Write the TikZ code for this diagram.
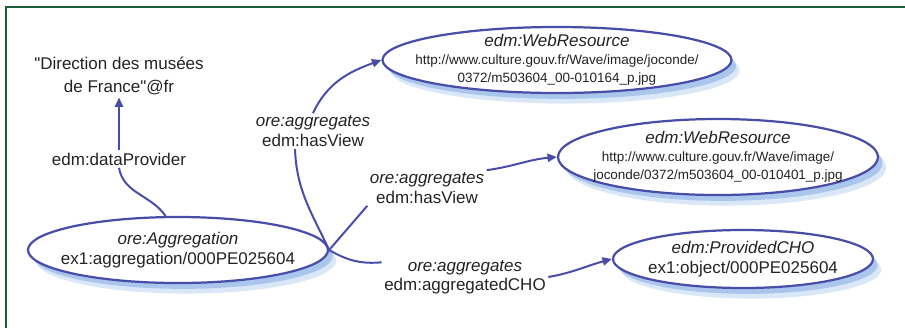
\documentclass[tikz,border=0pt]{standalone}
\usepackage{fontspec}
\setmainfont{Liberation Sans}
\usepackage{tikz}
\usetikzlibrary{shapes.geometric, %for ellipses
                calc, %for shifted anchors
                arrows.meta, %for triangle tips
                shadows}

\definecolor{linkblue}{RGB}{72,78,168}
\definecolor{glowblue}{RGB}{150,185,232}
\definecolor{framegreen}{RGB}{28,94,58}
\definecolor{textgray}{RGB}{35,35,35}

\newcommand{\bigtxt}{\fontsize{14.5}{16.5}\selectfont}
\newcommand{\urltxt}{\fontsize{11.5}{15.3}\selectfont}

\begin{document}
\begin{tikzpicture}[x=0.3mm, y=0.3mm,
                    Res/.style={draw=linkblue, line width=1.9pt, ellipse, fill=white, inner sep=0pt,
                                drop shadow={shadow xshift=7pt, shadow yshift=-9pt, opacity=.35, fill=glowblue},
                                drop shadow={shadow xshift=4pt, shadow yshift=-5pt, opacity=.7, fill=glowblue}},
                    Txt/.style={text=textgray, align=center, inner sep=2pt, font=\bigtxt},
                    Link/.style={draw=linkblue, line width=1.7pt},
                    Arr/.style={Link, -{Triangle[length=8pt, width=7pt]}}
                    ]
    \useasboundingbox (0,0) rectangle (905,-328);

    % FRAME %
    \draw[framegreen, line width=2.5pt] (905,-7) -- (6,-7) -- (6,-328);

    % RESOURCES %
    \node[Res, minimum width=90mm, minimum height=19.8mm] (agg) at (178,-250) {};
    \node[Txt] (aggT) at (agg) {\textit{ore:Aggregation}\\ex1:aggregation/000PE025604};

    \node[Res, minimum width=104.7mm, minimum height=19.8mm] (wr1) at (557,-60) {};
    \node[Txt, font=\urltxt] (wr1T) at (wr1) {{\bigtxt\itshape edm:WebResource}\\http://www.culture.gouv.fr/Wave/image/joconde/\\0372/m503604\_00-010164\_p.jpg};

    \node[Res, minimum width=96mm, minimum height=22.8mm] (wr2) at (718,-157) {};
    \node[Txt, font=\urltxt] (wr2T) at (wr2) {{\bigtxt\itshape edm:WebResource}\\http://www.culture.gouv.fr/Wave/image/\\joconde/0372/m503604\_00-010401\_p.jpg};

    \node[Res, minimum width=78mm, minimum height=17.4mm] (cho) at (743,-259) {};
    \node[Txt] (choT) at (cho) {\textit{edm:ProvidedCHO}\\ex1:object/000PE025604};

    % LITERAL AND LABELS %
    \node[Txt, font={\fontsize{14.5}{19.6}\selectfont}] (dir) at (119,-76) {\textquotedbl Direction des musées\\de France\textquotedbl @fr};
    \node[Txt] (dp) at (119,-159) {edm:dataProvider};
    \node[Txt] (hv1) at (313,-131) {\textit{ore:aggregates}\\edm:hasView};
    \node[Txt] (hv2) at (427,-188) {\textit{ore:aggregates}\\edm:hasView};
    \node[Txt] (agl) at (465,-277) {\textit{ore:aggregates}\\edm:aggregatedCHO};

    % EDGES %
    \draw[Arr] (dp) -- (dir);
    \draw[Link] (agg.110) to[out=125, in=-80] (dp.south);

    \draw[Link] (agg.east) to[out=115, in=-88] ($(hv1.south)+(-18,0)$);
    \draw[Arr] (hv1.north) to[out=65, in=200] (wr1.west);

    \draw[Link] (agg.east) -- (hv2.south west);
    \draw[Arr] (hv2.north east) to[out=8, in=185] (wr2.west);

    \draw[Link] (agg.east) to[out=-30, in=185] (agl.170);
    \draw[Arr] (agl.east) to[out=10, in=195] (cho.west);
\end{tikzpicture}
\end{document}
